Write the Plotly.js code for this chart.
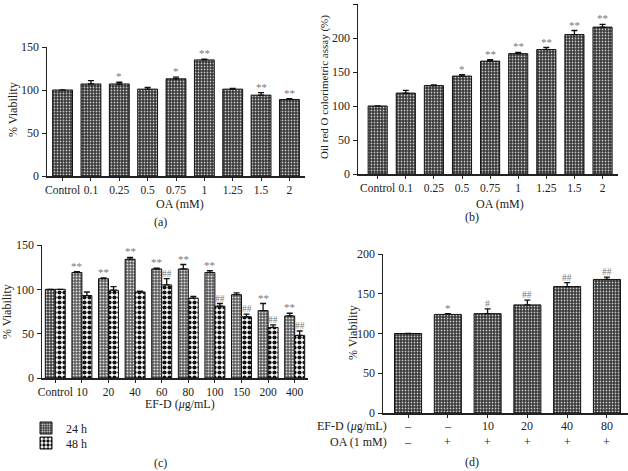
<!DOCTYPE html>
<html><head><meta charset="utf-8">
<script src="https://cdn.plot.ly/plotly-3.0.1.min.js"></script>
<style>body{margin:0;background:#fff}#chart{width:628px;height:471px}</style>
</head><body><div id="chart"></div>
<script>
// Panel (a)
const catsA = ['Control','0.1','0.25','0.5','0.75','1','1.25','1.5','2'];
const valsA = [100,107,107,101,113,135,101,94,89];
const errA  = [0,4,2,2,2,1,1,3,1];
const sigA  = ['','','*','','*','**','','**','**'];
// Panel (b)
const catsB = ['Control','0.1','0.25','0.5','0.75','1','1.25','1.5','2'];
const valsB = [100,119,130,144,166,177,183,205,216];
const errB  = [0,4,1,2,2,2,3,6,4];
const sigB  = ['','','','*','**','**','**','**','**'];
// Panel (c)
const catsC = ['Control','10','20','40','60','80','100','150','200','400'];
const vals24 = [100,119,112,134,123,123,119,94,76,70];
const err24  = [0,1,1,2,1,5,2,2,8,3];
const sig24  = ['','**','**','**','**','**','**','','**','**'];
const vals48 = [100,93,99,97,105,90,81,69,57,48];
const err48  = [0,4,4,1,7,2,3,3,3,5];
const sig48  = ['','','','','##','','##','##','##','##'];
// Panel (d)
const idxD  = [0,1,2,3,4,5];
const efdD  = ['–','–','10','20','40','80'];
const oaD   = ['–','+','+','+','+','+'];
const valsD = [100,124,125,136,159,168];
const errD  = [0,1,6,6,5,3];
const sigD  = ['','*','#','##','##','##'];

const FONT = 'Liberation Serif, Times New Roman, serif';
const zeros = a => a.map(() => 0);
const darkPat = {shape:'.', fgcolor:'#c8c8c8', bgcolor:'#353535', size:3, solidity:0.28};
const eb = (arr) => ({type:'data', symmetric:false, array:arr, arrayminus:zeros(arr), color:'#111', thickness:1.3, width:3});

const traces = [
  {type:'bar', x:catsA, y:valsA, xaxis:'x', yaxis:'y', width:0.7, showlegend:false,
   marker:{color:'#353535', pattern:darkPat, line:{color:'#111', width:1}}, error_y:eb(errA)},
  {type:'bar', x:catsB, y:valsB, xaxis:'x2', yaxis:'y2', width:0.68, showlegend:false,
   marker:{color:'#353535', pattern:darkPat, line:{color:'#111', width:1}}, error_y:eb(errB)},
  {type:'bar', name:'24 h', x:catsC, y:vals24, xaxis:'x3', yaxis:'y3', showlegend:true, legend:'legend',
   marker:{color:'#666', pattern:{shape:'.', fgcolor:'#e0e0e0', bgcolor:catsC.map((c,i)=> i===0 ? '#3a3a3a' : '#5a5a5a'), size:3, solidity:0.35}, line:{color:'#111', width:1}}, error_y:eb(err24)},
  {type:'bar', name:'48 h', x:catsC, y:vals48, xaxis:'x3', yaxis:'y3', showlegend:true, legend:'legend2',
   marker:{color:'#fff', pattern:{shape:'.', fgcolor:'#111', bgcolor:'#ffffff', size:5, solidity:0.55}, line:{color:'#111', width:1}}, error_y:eb(err48)},
  {type:'bar', x:idxD, y:valsD, xaxis:'x4', yaxis:'y4', width:0.68, showlegend:false,
   marker:{color:'#353535', pattern:darkPat, line:{color:'#111', width:1}}, error_y:eb(errD)}
];

const tickF = {family:FONT, size:12, color:'#222'};
const xtickF = {family:FONT, size:11.5, color:'#222'};
const xax = (dom, rng, extra) => Object.assign({domain:dom, range:rng, showline:true, linecolor:'#222', linewidth:1.5,
  ticks:'outside', ticklen:3, tickcolor:'#222', tickfont:xtickF, tickangle:0, showgrid:false, zeroline:false, fixedrange:true}, extra||{});
const yax = (dom, rng, tv, anchor) => ({domain:dom, range:rng, tickvals:tv, showline:true, linecolor:'#222', linewidth:1.5,
  ticks:'outside', ticklen:4, tickcolor:'#222', tickfont:tickF, showgrid:false, zeroline:false, anchor:anchor});

const P = (px) => px/628, Q = (py) => 1 - py/471;

const legendBase = {xanchor:'left', yanchor:'middle', font:{family:FONT, size:12, color:'#222'}, bgcolor:'rgba(0,0,0,0)', borderwidth:0, itemwidth:30};

const layout = {
  width:628, height:471, margin:{l:0,r:0,t:0,b:0}, paper_bgcolor:'#fff', plot_bgcolor:'#fff',
  barmode:'group', bargap:0.25, bargroupgap:0,
  font:{family:FONT, size:12, color:'#222'},
  xaxis: xax([P(47),P(305)], [-0.55,8.55], {type:'category', anchor:'y'}),
  yaxis: yax([Q(176),Q(47)], [0,150], [0,50,100,150], 'x'),
  xaxis2: xax([P(358),P(618)], [-0.7,8.55], {type:'category', anchor:'y2'}),
  yaxis2: yax([Q(174),Q(4)], [0,250], [0,50,100,150,200,250], 'x2'),
  xaxis3: xax([P(42),P(308)], [-0.5,9.5], {type:'category', anchor:'y3'}),
  yaxis3: yax([Q(378),Q(245)], [0,150], [0,50,100,150], 'x3'),
  xaxis4: xax([P(383),1], [-0.63,5.53], {anchor:'y4', tickvals:idxD, ticktext:idxD.map(()=> '')}),
  yaxis4: yax([Q(413),Q(254)], [0,200], [0,50,100,150,200], 'x4'),
  legend: Object.assign({x:P(26), y:Q(428)}, legendBase),
  legend2: Object.assign({x:P(26), y:Q(443)}, legendBase),
  annotations:[]
};

const ann = layout.annotations;
const sigFont = {family:FONT, size:11, color:'#777'};
const hashFont = {family:FONT, size:9.5, color:'#777'};
const sig = (x, y, ref, t, f) => ann.push({x:x, y:y, xref:'x'+ref, yref:'y'+ref, text:t, showarrow:false, xanchor:'center', yanchor:'bottom', yshift:-2, font:f});
catsA.forEach((c,i)=>{ if(sigA[i]) sig(i, valsA[i]+errA[i], '', sigA[i], sigFont); });
catsB.forEach((c,i)=>{ if(sigB[i]) sig(i, valsB[i]+errB[i], '2', sigB[i], sigFont); });
catsC.forEach((c,i)=>{
  if(sig24[i]) sig(i-0.19, vals24[i]+err24[i], '3', sig24[i], sigFont);
  if(sig48[i]) sig(i+0.19, vals48[i]+err48[i], '3', sig48[i], hashFont);
});
idxD.forEach((x,i)=>{
  if(sigD[i]) sig(x, valsD[i]+errD[i], '4', sigD[i], sigD[i]==='*'?sigFont:hashFont);
  ann.push({x:x, y:Q(426), xref:'x4', yref:'paper', text:efdD[i], showarrow:false, xanchor:'center', yanchor:'middle', font:tickF});
  ann.push({x:x, y:Q(442), xref:'x4', yref:'paper', text:oaD[i], showarrow:false, xanchor:'center', yanchor:'middle', font:tickF});
});
const txt = (px,py,t,extra) => ann.push(Object.assign({x:P(px), y:Q(py), xref:'paper', yref:'paper', text:t, showarrow:false, xanchor:'center', yanchor:'middle', font:{family:FONT, size:12, color:'#222'}}, extra||{}));
txt(389,426,'EF-D (<i>μ</i>g/mL)',{xanchor:'right'});
txt(389,442,'OA (1 mM)',{xanchor:'right'});
txt(180,204,'OA (mM)');
txt(500,204,'OA (mM)');
txt(180,404,'EF-D (<i>μ</i>g/mL)');
txt(13,110,'% Viability',{textangle:-90});
txt(325,87,'Oil red O colorimetric assay (%)',{textangle:-90, font:{family:FONT, size:11, color:'#222'}});
txt(7,312,'% Viability',{textangle:-90});
txt(353,333,'% Viability',{textangle:-90});
txt(160,222,'(a)');
txt(472,217,'(b)');
txt(160,463,'(c)');
txt(472,462,'(d)');

Plotly.newPlot('chart', traces, layout, {staticPlot:true, displayModeBar:false});
</script></body></html>
